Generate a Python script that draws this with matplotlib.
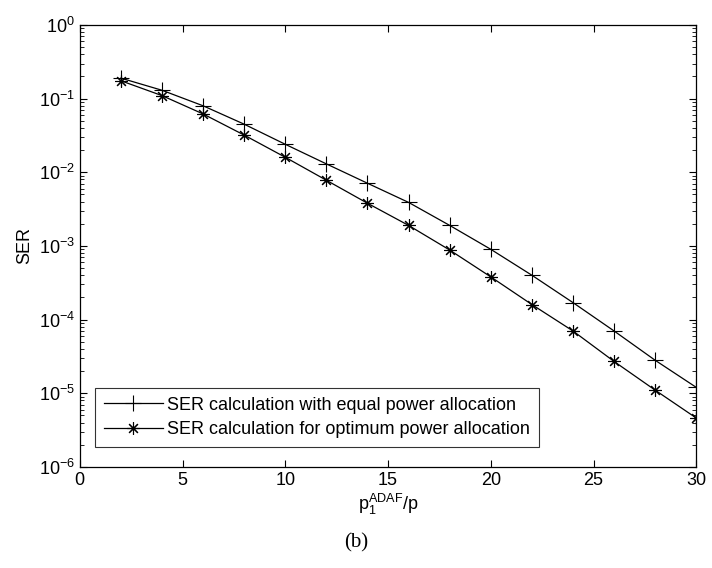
import numpy as np
import matplotlib
matplotlib.use("Agg")
import matplotlib.pyplot as plt

plt.rcParams['font.family'] = ['Liberation Sans', 'DejaVu Sans']
plt.rcParams['mathtext.default'] = 'regular'

# SNR points (p1^ADAF / p)
snr = [2, 4, 6, 8, 10, 12, 14, 16, 18, 20, 22, 24, 26, 28, 30]

# SER with equal power allocation
ser_equal = [0.19, 0.13, 0.08, 0.045, 0.024, 0.013, 0.0071, 0.0039, 0.0019,
             0.0009, 0.0004, 0.00017, 7.0e-5, 2.8e-5, 1.2e-5]

# SER with optimum power allocation
ser_opt = [0.175, 0.11, 0.062, 0.032, 0.016, 0.0078, 0.0038, 0.0019, 0.00088,
           0.00038, 0.00016, 7.0e-5, 2.7e-5, 1.1e-5, 4.6e-6]

fig = plt.figure(figsize=(7.12, 5.68), dpi=100)
ax = fig.add_axes([0.112, 0.178, 0.866, 0.778])

ax.semilogy(snr, ser_equal, color='black', lw=0.9, marker='+', ms=11, mew=0.8,
            label='SER calculation with equal power allocation')
ax.semilogy(snr, ser_opt, color='black', lw=0.9, marker=(8, 2, 0), ms=9, mew=0.8,
            label='SER calculation for optimum power allocation')

ax.set_xlim(0, 30)
ax.set_ylim(1e-6, 1e0)
ax.set_xticks([0, 5, 10, 15, 20, 25, 30])
ax.set_yticks([1e-6, 1e-5, 1e-4, 1e-3, 1e-2, 1e-1, 1e0])
ax.tick_params(which='both', direction='in', top=True, right=True, labelsize=13)
ax.tick_params(which='major', length=5)
ax.tick_params(which='minor', length=3)

ax.set_ylabel('SER', fontsize=13)
ax.set_xlabel(r'$p_1^{ADAF}/p$', fontsize=13, labelpad=2)

leg = ax.legend(loc='lower left', bbox_to_anchor=(0.024, 0.045), borderaxespad=0,
                fontsize=13, handlelength=3.3, frameon=True,
                fancybox=False, edgecolor='black', borderpad=0.5,
                labelspacing=0.4, handletextpad=0.2)
leg.get_frame().set_linewidth(0.8)

for s in ax.spines.values():
    s.set_linewidth(0.9)

fig.text(0.5, 0.045, '(b)', ha='center', va='center', fontsize=15,
         family='Liberation Serif')

fig.savefig('out.png', dpi=100)
